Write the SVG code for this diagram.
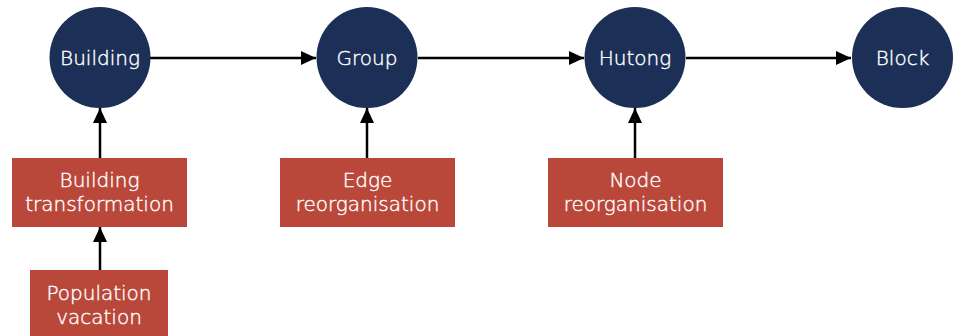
<svg xmlns="http://www.w3.org/2000/svg" width="954" height="336" viewBox="0 0 954 336">
<style>
.node circle{fill:#1b2f57}
.box rect{fill:#b9473a}
text{font-family:"DejaVu Sans",sans-serif;font-weight:300;font-size:20px;fill:#ffffff;stroke:#ffffff;stroke-width:0.4;text-anchor:middle}
.conn line{stroke:#000;stroke-width:2.5}
</style>
<defs>
<marker id="ah" markerUnits="userSpaceOnUse" markerWidth="16" markerHeight="14" refX="15" refY="7" orient="auto">
<path d="M0,0 L15,7 L0,14 Z" fill="#000"/>
</marker>
</defs>
<rect width="954" height="336" fill="#fff"/>
<g id="connectors" class="conn">
<line x1="150" y1="58" x2="316" y2="58" marker-end="url(#ah)"/>
<line x1="418" y1="58" x2="584" y2="58" marker-end="url(#ah)"/>
<line x1="686" y1="58" x2="851" y2="58" marker-end="url(#ah)"/>
<line x1="100" y1="158" x2="100" y2="108" marker-end="url(#ah)"/>
<line x1="100" y1="270" x2="100" y2="227" marker-end="url(#ah)"/>
<line x1="367" y1="158" x2="367" y2="108" marker-end="url(#ah)"/>
<line x1="635" y1="158" x2="635" y2="108" marker-end="url(#ah)"/>
</g>
<g id="building" class="node"><circle cx="100" cy="57.5" r="50.5"/><text x="100" y="65">Building</text></g>
<g id="group" class="node"><circle cx="367" cy="57.5" r="50.5"/><text x="367" y="65">Group</text></g>
<g id="hutong" class="node"><circle cx="635" cy="57.5" r="50.5"/><text x="635" y="65">Hutong</text></g>
<g id="block" class="node"><circle cx="902.5" cy="57.5" r="50.5"/><text x="902.5" y="65">Block</text></g>
<g id="building-transformation" class="box"><rect x="12" y="158" width="175" height="69"/><text x="99.5" y="186.5">Building<tspan x="99.5" dy="24">transformation</tspan></text></g>
<g id="edge-reorganisation" class="box"><rect x="280" y="158" width="175" height="69"/><text x="367.5" y="186.5">Edge<tspan x="367.5" dy="24">reorganisation</tspan></text></g>
<g id="node-reorganisation" class="box"><rect x="548" y="158" width="175" height="69"/><text x="635.5" y="186.5">Node<tspan x="635.5" dy="24">reorganisation</tspan></text></g>
<g id="population-vacation" class="box"><rect x="30" y="270" width="138" height="66"/><text x="99" y="299.5">Population<tspan x="99" dy="24">vacation</tspan></text></g>
</svg>
